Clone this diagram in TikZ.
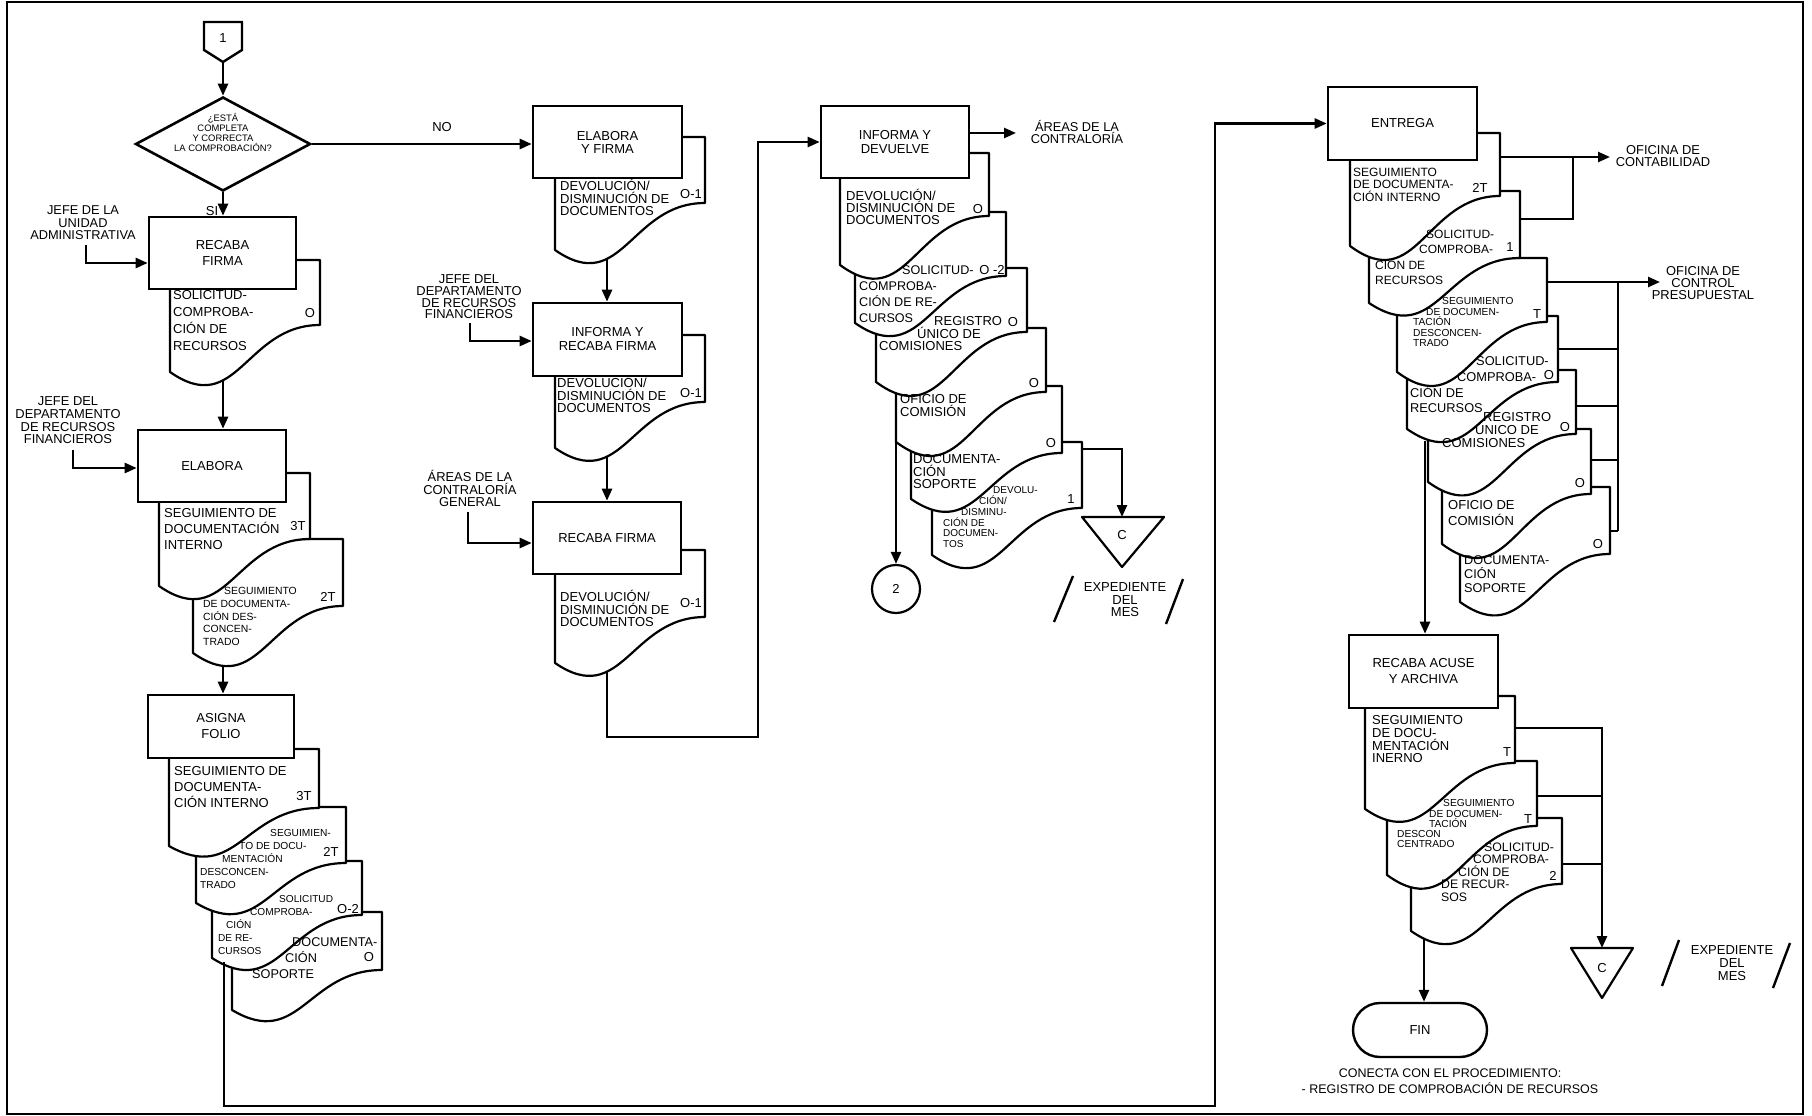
\documentclass[tikz,border=0pt]{standalone}
\usepackage{fontspec}
\setmainfont{Liberation Sans}
\usetikzlibrary{arrows.meta,shapes.geometric}
\newcommand{\docshape}[5]{%
  \filldraw[docln] (#1,#2) -- (#3,#2) -- (#3,#5)
    .. controls ({#1+0.5*(#3-#1)},#5) and ({#1+0.45*(#3-#1)},{#4+(#4-#5)}) .. (#1,#4) -- cycle;}
\begin{document}
\begin{tikzpicture}[x=1pt,y=-1pt,
  box/.style={draw, line width=2.6pt, fill=white, inner sep=0pt, align=center},
  docln/.style={draw, line width=2.2pt, fill=white, line join=round},
  conn/.style={line width=2.4pt},
  arr/.style={conn, -{Triangle[length=12pt,width=10pt]}},
  dtxt/.style={anchor=base west, align=left, inner sep=0pt},
  lbl/.style={anchor=base, align=center, inner sep=0pt},
  tag/.style={inner sep=0pt, font=\fontsize{13}{13}\selectfont}]
\useasboundingbox (0,0) rectangle (1812,1116);
\fill[white] (0,0) rectangle (1812,1116);
\draw[line width=1.8pt] (7,2) rectangle (1803,1114);

% ---------- column 1 ----------
\docshape{170}{260}{320}{372}{325}
\node[box, minimum width=147pt, minimum height=72pt, font=\fontsize{13}{16}\selectfont] (rf) at (222.5,253) {RECABA\\FIRMA};

\docshape{193}{539}{343}{653}{606}
\docshape{159}{473}{310}{586}{539}
\node[box, minimum width=148pt, minimum height=72pt, font=\fontsize{13}{16}\selectfont] (el) at (212,466) {ELABORA};

\docshape{232}{912}{382}{1010}{970}
\docshape{212}{861}{362}{958}{915}
\docshape{196}{807}{346}{903}{863}
\docshape{169}{749}{319}{846}{808}
\node[box, minimum width=146pt, minimum height=63pt, font=\fontsize{13}{16}\selectfont] (af) at (221,726.5) {ASIGNA\\FOLIO};

% ---------- column 2 ----------
\docshape{555}{137}{705}{250}{203}
\node[box, minimum width=149pt, minimum height=72pt, font=\fontsize{13}{13}\selectfont] (ef) at (607.5,142) {ELABORA\\Y FIRMA};
\docshape{555}{335}{705}{448}{402}
\node[box, minimum width=149pt, minimum height=73pt, font=\fontsize{13}{14}\selectfont] (ir) at (607.5,339.5) {INFORMA Y\\RECABA FIRMA};
\docshape{555}{550}{705}{663}{617}
\node[box, minimum width=148pt, minimum height=72pt, font=\fontsize{13}{14}\selectfont] (rb) at (607,538) {RECABA FIRMA};

% ---------- column 3 ----------
\docshape{932}{442}{1082}{555}{508}
\docshape{911}{386}{1062}{499}{453}
\docshape{896}{328}{1046}{442}{392}
\docshape{876}{268}{1027}{382}{332}
\docshape{855}{212}{1006}{323}{276}
\docshape{840}{153}{989}{265}{216}
\node[box, minimum width=148pt, minimum height=72pt, font=\fontsize{13}{14}\selectfont] (id) at (895,142) {INFORMA Y\\DEVUELVE};

% ---------- column 4 ----------
\docshape{1460}{487}{1610}{602}{554}
\docshape{1442}{429}{1591}{544}{494}
\docshape{1428}{370}{1576}{482}{434}
\docshape{1407}{316}{1558}{429}{382}
\docshape{1397}{258}{1547}{372}{322}
\docshape{1369}{191}{1520}{303}{258}
\docshape{1350}{133}{1500}{246}{196}
\node[box, minimum width=149pt, minimum height=73pt, font=\fontsize{13}{14}\selectfont] (en) at (1402.5,123.5) {ENTREGA};

\docshape{1411}{818}{1562}{931}{884}
\docshape{1387}{761}{1537}{875}{826}
\docshape{1365}{696}{1515}{809}{763}
\node[box, minimum width=149pt, minimum height=73pt, font=\fontsize{13}{16}\selectfont] (ra) at (1423.5,671.5) {RECABA ACUSE\\Y ARCHIVA};

% ---------- other shapes ----------
\draw[conn, fill=white] (204,22) -- (242,22) -- (242,50) -- (223,62) -- (204,50) -- cycle;
\node[tag] (n1) at (223,38) {1};
\coordinate (c1b) at (223,62);
\node[diamond, draw, line width=2.6pt, fill=white, minimum width=175pt, minimum height=94pt, inner sep=0pt] (dia) at (223,144) {};
\node[circle, draw, line width=2.2pt, fill=white, minimum size=48pt, inner sep=0pt, font=\fontsize{13}{13}\selectfont] (c2) at (896,589) {2};
\draw[docln] (1082,517) -- (1164,517) -- (1122,567) -- cycle;
\node[tag] (tgc1) at (1122,535) {C};
\draw[docln] (1571,948) -- (1633,948) -- (1602,998) -- cycle;
\node[tag] (tgc2) at (1602,968) {C};
\node[draw, line width=2.4pt, fill=white, rounded corners=27pt, minimum width=134pt, minimum height=54pt, inner sep=0pt, font=\fontsize{13}{13}\selectfont] (fin) at (1420,1030) {FIN};

% ---------- coordinates ----------
\coordinate (rfb) at (223,381);
\coordinate (el2b) at (223,665);
\coordinate (af3b) at (224,962);
\coordinate (bt1) at (224,1106);
\coordinate (bt2) at (1215,1106);
\coordinate (efb) at (607,259);
\coordinate (irb) at (607,457);
\coordinate (rbb) at (607,672);
\coordinate (m1) at (607,737);
\coordinate (m2) at (758,737);
\coordinate (idout) at (1016,133);
\coordinate (c4b) at (896,442);
\coordinate (c6r) at (1082,449);
\coordinate (c6k) at (1122,449);
\coordinate (tc1) at (1122,517);
\coordinate (e1r) at (1500,157);
\coordinate (ofc) at (1610,157);
\coordinate (j1) at (1573,157);
\coordinate (e2r) at (1520,219);
\coordinate (e3r) at (1547,282);
\coordinate (ocp) at (1660,282);
\coordinate (j2) at (1618,282);
\coordinate (j3) at (1618,531);
\coordinate (e4r) at (1558,349);
\coordinate (e5r) at (1576,406);
\coordinate (e6r) at (1591,460);
\coordinate (e7r) at (1610,531);
\coordinate (e4b) at (1425,441);
\coordinate (r1r) at (1515,728);
\coordinate (r2r) at (1537,796);
\coordinate (r3r) at (1562,864);
\coordinate (tc2) at (1602,948);
\coordinate (r3b) at (1424,939);
\coordinate (l1s) at (86,245);
\coordinate (l2s) at (73,450);
\coordinate (l3s) at (470,323);
\coordinate (l4s) at (468,512);

% ---------- connectors ----------
\draw[arr] (c1b) -- (dia.north);
\draw[arr] (dia.east) -- (dia.east -| ef.west);
\draw[arr] (dia.south) -- (dia.south |- rf.north);
\draw[arr] (rfb) -- (rfb |- el.north);
\draw[arr] (l1s) |- ([yshift=-10pt]rf.west);
\draw[arr] (l2s) |- ([yshift=-2pt]el.west);
\draw[arr] (el2b) -- (el2b |- af.north);
\draw[arr] (af3b) -- (bt1) -- (bt2) |- (en.west);
\draw[arr] (efb) -- (efb |- ir.north);
\draw[arr] (l3s) |- ([yshift=-1.5pt]ir.west);
\draw[arr] (irb) -- (irb |- rb.north);
\draw[arr] (l4s) |- ([yshift=-5pt]rb.west);
\draw[arr] (rbb) -- (m1) -- (m2) |- (id.west);
\draw[arr] (id.east |- idout) -- (idout);
\draw[arr] (c4b) -- (c2.north);
\draw[arr] (c6r) -- (c6k) -- (tc1);
\draw[arr] (e1r) -- (ofc);
\draw[conn] (e2r) -| (j1);
\draw[arr] (e3r) -- (ocp);
\draw[conn] (j2) -- (j3);
\draw[conn] (e4r) -- (e4r -| j2);
\draw[conn] (e5r) -- (e5r -| j2);
\draw[conn] (e6r) -- (e6r -| j2);
\draw[conn] (e7r) -- (j3);
\draw[arr] (e4b) -- (e4b |- ra.north);
\draw[arr] (r1r) -| (tc2);
\draw[conn] (r2r) -- (r2r -| tc2);
\draw[conn] (r3r) -- (r3r -| tc2);
\draw[arr] (r3b) -- (r3b |- fin.north);

% slashes
\draw[conn] (1073,576) -- (1054,622);
\draw[conn] (1183,579) -- (1166,624);
\draw[conn] (1679,940) -- (1662,986);
\draw[conn] (1790,943) -- (1773,988);

% ---------- labels (y = baseline of last line) ----------
\node[lbl, font=\fontsize{9.4}{10}\selectfont] (qd) at (223,151.4) {¿ESTÁ\\COMPLETA\\Y CORRECTA\\LA COMPROBACIÓN?};
\node[tag] (no) at (442,127) {NO};
\node[tag] (si) at (212,211) {SI};
\node[lbl, font=\fontsize{12.8}{12.5}\selectfont] (l1) at (83,239.6) {JEFE DE LA\\UNIDAD\\ADMINISTRATIVA};
\node[lbl, font=\fontsize{12.9}{12.7}\selectfont] (l2) at (68,443.7) {JEFE DEL\\DEPARTAMENTO\\DE RECURSOS\\FINANCIEROS};
\node[lbl, font=\fontsize{12.9}{11.7}\selectfont] (l3) at (469,318.7) {JEFE DEL\\DEPARTAMENTO\\DE RECURSOS\\FINANCIEROS};
\node[lbl, font=\fontsize{12.9}{12.5}\selectfont] (l4) at (470,506.6) {ÁREAS DE LA\\CONTRALORÍA\\GENERAL};
\node[lbl, font=\fontsize{12.8}{11}\selectfont] (l5) at (1077,143.6) {ÁREAS DE LA\\CONTRALORÍA};
\node[lbl, font=\fontsize{12.9}{12}\selectfont] (l6) at (1663,166.6) {OFICINA DE\\CONTABILIDAD};
\node[lbl, font=\fontsize{12.9}{12}\selectfont] (l7) at (1703,299.6) {OFICINA DE\\CONTROL\\PRESUPUESTAL};
\node[lbl, font=\fontsize{13}{12.5}\selectfont] (l8) at (1125,616.6) {EXPEDIENTE\\DEL\\MES};
\node[lbl, font=\fontsize{13}{13}\selectfont] (l9) at (1732,980.6) {EXPEDIENTE\\DEL\\MES};
\node[lbl, font=\fontsize{12.5}{16}\selectfont] (l10) at (1450,1093.5) {CONECTA CON EL PROCEDIMIENTO:\\- REGISTRO DE COMPROBACIÓN DE RECURSOS};

% ---------- document texts (y = baseline of last line) ----------
\node[dtxt, font=\fontsize{13}{17}\selectfont] (xrf) at (173,350.7) {SOLICITUD-\\COMPROBA-\\CIÓN DE\\RECURSOS};
\node[tag] (grf) at (310,313) {O};
\node[dtxt, font=\fontsize{13}{16}\selectfont] (xel1) at (164,549.7) {SEGUIMIENTO DE\\DOCUMENTACIÓN\\INTERNO};
\node[tag] (gel1) at (298,526) {3T};
\node[dtxt, font=\fontsize{10.4}{12.7}\selectfont] (xel2) at (203,645.5) {\hspace*{21pt}SEGUIMIENTO\\DE DOCUMENTA-\\CIÓN DES-\\CONCEN-\\TRADO};
\node[tag] (gel2) at (328,597) {2T};
\node[dtxt, font=\fontsize{13}{16}\selectfont] (xaf1) at (174,807.7) {SEGUIMIENTO DE\\DOCUMENTA-\\CIÓN INTERNO};
\node[tag] (gaf1) at (304,796) {3T};
\node[dtxt, font=\fontsize{10.2}{13}\selectfont] (xaf2) at (200,888.7) {\hspace*{70pt}SEGUIMIEN-\\\hspace*{39pt}TO DE DOCU-\\\hspace*{22pt}MENTACIÓN\\DESCONCEN-\\TRADO};
\node[tag] (gaf2) at (331,852) {2T};
\node[dtxt, font=\fontsize{10.1}{13}\selectfont] (xaf3) at (218,954.6) {\hspace*{61pt}SOLICITUD\\\hspace*{32pt}COMPROBA-\\\hspace*{8pt}CIÓN\\DE RE-\\CURSOS};
\node[tag] (gaf3) at (348,909) {O-2};
\node[dtxt, font=\fontsize{12.7}{16}\selectfont] (xaf4) at (252,978.6) {\hspace*{40pt}DOCUMENTA-\\\hspace*{33pt}CIÓN\\SOPORTE};
\node[tag] (gaf4) at (369,957) {O};

\node[dtxt, font=\fontsize{13}{12.5}\selectfont] (xef) at (560,215.7) {DEVOLUCIÓN/\\DISMINUCIÓN DE\\DOCUMENTOS};
\node[tag] (gef) at (691,194) {O-1};
\node[dtxt, font=\fontsize{13}{12.5}\selectfont] (xir) at (557,412.7) {DEVOLUCIÓN/\\DISMINUCIÓN DE\\DOCUMENTOS};
\node[tag] (gir) at (691,393) {O-1};
\node[dtxt, font=\fontsize{13}{12.5}\selectfont] (xrb) at (560,626.7) {DEVOLUCIÓN/\\DISMINUCIÓN DE\\DOCUMENTOS};
\node[tag] (grb) at (691,603) {O-1};

\node[dtxt, font=\fontsize{13}{11.7}\selectfont] (xc1) at (846,224.1) {DEVOLUCIÓN/\\DISMINUCIÓN DE\\DOCUMENTOS};
\node[tag] (gc1) at (978,209) {O};
\node[dtxt, font=\fontsize{12.6}{16}\selectfont] (xc2) at (859,322.5) {\hspace*{43pt}SOLICITUD-\\COMPROBA-\\CIÓN DE RE-\\CURSOS};
\node[tag] (gc2) at (992,270) {O -2};
\node[dtxt, font=\fontsize{13}{12.5}\selectfont] (xc3) at (879,350.7) {\hspace*{55pt}REGISTRO\\\hspace*{38pt}ÚNICO DE\\COMISIONES};
\node[tag] (gc3) at (1013,322) {O};
\node[dtxt, font=\fontsize{13}{13}\selectfont] (xc4) at (900,416.7) {OFICIO DE\\COMISIÓN};
\node[tag] (gc4) at (1034,383) {O};
\node[dtxt, font=\fontsize{13}{12.5}\selectfont] (xc5) at (913,488.7) {DOCUMENTA-\\CIÓN\\SOPORTE};
\node[tag] (gc5) at (1051,443) {O};
\node[dtxt, font=\fontsize{10}{10.8}\selectfont] (xc6) at (943,547.6) {\hspace*{50pt}DEVOLU-\\\hspace*{36pt}CIÓN/\\\hspace*{18pt}DISMINU-\\CIÓN DE\\DOCUMEN-\\TOS};
\node[tag] (gc6) at (1071,499) {1};

\node[dtxt, font=\fontsize{12}{12.5}\selectfont] (xe1) at (1353,201.3) {SEGUIMIENTO\\DE DOCUMENTA-\\CIÓN INTERNO};
\node[tag] (ge1) at (1480,188) {2T};
\node[dtxt, font=\fontsize{12}{15.5}\selectfont] (xe2) at (1375,284.8) {\hspace*{51pt}SOLICITUD-\\\hspace*{44pt}COMPROBA-\\CIÓN DE\\RECURSOS};
\node[tag] (ge2) at (1510,247) {1};
\node[dtxt, font=\fontsize{10.2}{10.5}\selectfont] (xe3) at (1413,346.7) {\hspace*{29pt}SEGUIMIENTO\\\hspace*{13pt}DE DOCUMEN-\\TACIÓN\\DESCONCEN-\\TRADO};
\node[tag] (ge3) at (1537,314) {T};
\node[dtxt, font=\fontsize{12.8}{15.7}\selectfont] (xe4) at (1410,412.7) {\hspace*{66pt}SOLICITUD-\\\hspace*{47pt}COMPROBA-\\CIÓN DE\\RECURSOS};
\node[tag] (ge4) at (1549,375) {O};
\node[dtxt, font=\fontsize{13}{13}\selectfont] (xe5) at (1442,447.7) {\hspace*{41pt}REGISTRO\\\hspace*{33pt}ÚNICO DE\\COMISIONES};
\node[tag] (ge5) at (1565,427) {O};
\node[dtxt, font=\fontsize{13}{16}\selectfont] (xe6) at (1448,525.7) {OFICIO DE\\COMISIÓN};
\node[tag] (ge6) at (1580,483) {O};
\node[dtxt, font=\fontsize{12.7}{14}\selectfont] (xe7) at (1464,592.6) {DOCUMENTA-\\CIÓN\\SOPORTE};
\node[tag] (ge7) at (1598,544) {O};

\node[dtxt, font=\fontsize{13}{12.7}\selectfont] (xr1) at (1372,762.8) {SEGUIMIENTO\\DE DOCU-\\MENTACIÓN\\INERNO};
\node[tag] (gr1) at (1507,752) {T};
\node[dtxt, font=\fontsize{10.2}{10.3}\selectfont] (xr2) at (1397,847.9) {\hspace*{46pt}SEGUIMIENTO\\\hspace*{32pt}DE DOCUMEN-\\\hspace*{32pt}TACIÓN\\DESCON\\CENTRADO};
\node[tag] (gr2) at (1528,819) {T};
\node[dtxt, font=\fontsize{12.3}{12.5}\selectfont] (xr3) at (1441,901.4) {\hspace*{43pt}SOLICITUD-\\\hspace*{32pt}COMPROBA-\\\hspace*{17pt}CIÓN DE\\DE RECUR-\\SOS};
\node[tag] (gr3) at (1553,876) {2};
\end{tikzpicture}
\end{document}
